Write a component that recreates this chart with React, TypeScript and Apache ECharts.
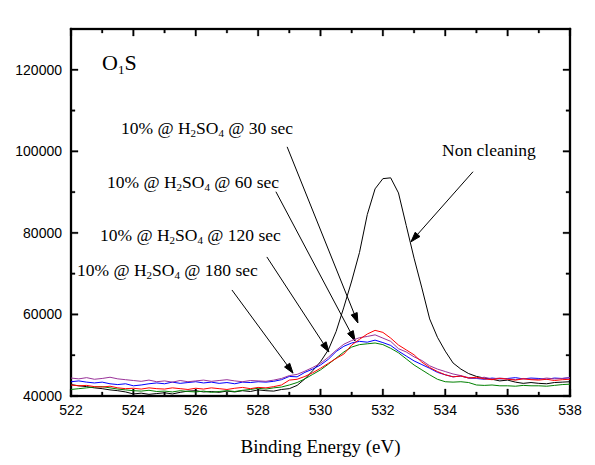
import React, { useEffect, useRef } from "react";
import * as echarts from "echarts";

const energy = [
  522, 522.25, 522.5, 522.75, 523, 523.25, 523.5, 523.75, 524, 524.25, 524.5, 524.75,
  525, 525.25, 525.5, 525.75, 526, 526.25, 526.5, 526.75, 527, 527.25, 527.5, 527.75,
  528, 528.25, 528.5, 528.75, 529, 529.25, 529.5, 529.75, 530, 530.25, 530.5, 530.75,
  531, 531.25, 531.5, 531.75, 532, 532.25, 532.5, 532.75, 533, 533.25, 533.5, 533.75,
  534, 534.25, 534.5, 534.75, 535, 535.25, 535.5, 535.75, 536, 536.25, 536.5, 536.75,
  537, 537.25, 537.5, 537.75, 538,
];

const nonCleaning = [
  42800, 42500, 42300, 42000, 41800, 41500, 41300, 41000, 40500, 40700, 40400, 40600,
  40800, 40500, 40900, 41200, 41300, 41000, 41100, 40900, 41200, 41000, 41300, 41100,
  41500, 41300, 41200, 41600, 41800, 42600, 44200, 46200, 48400, 51300, 55800, 61800,
  68200, 75200, 84500, 90800, 93300, 93500, 89800, 81800, 73800, 66500, 58900, 54400,
  51000, 48100, 46600, 45500, 44800, 44400, 44100, 43700, 43900, 43400, 43100, 43300,
  43100, 43000, 43300, 43400, 43500,
];

const sec30 = [
  42700, 42500, 42600, 42300, 42200, 42400, 42000, 41800, 41900, 41700, 42000, 41800,
  41700, 42000, 41800, 41600, 41900, 41700, 42000, 41800, 41600, 41900, 42100, 41800,
  42100, 42000, 42300, 42700, 43900, 44100, 44800, 45700, 46800, 48000, 49200, 50300,
  52500, 53900, 55200, 56100, 55600, 54200, 52500, 51300, 50100, 48300, 47000, 46000,
  45200, 44700, 44900, 44400, 44600, 44200, 44000, 44300, 44100, 43900, 44200, 44000,
  43900, 44100, 43800, 44000, 44100,
];

const sec60 = [
  44400, 44200, 44500, 44100, 44300, 44600, 44200, 44000, 43800, 43600, 43900, 43500,
  43700, 43400, 43800, 43500, 43700, 43900, 43600, 43800, 44000, 43700, 43500, 43800,
  43700, 43600, 43900, 44300, 45000, 45300, 46100, 47000, 48000, 49500, 51200, 52700,
  53600, 54300, 54600, 55000, 54200, 53400, 51600, 50800, 49600, 48700, 47400, 46600,
  46000, 45400, 45000, 44500, 44300, 44600, 44200, 44400, 44200, 44000, 44300, 44100,
  44100, 44400, 44200, 44300, 44500,
];

const sec120 = [
  43500, 43700, 43400, 43200, 43400, 43000, 42800, 43000, 42500, 42700, 43000, 43200,
  43000, 43400, 43100, 43300, 43500, 43200, 43400, 43100, 43300, 43000, 43400, 43300,
  43500, 43400, 43600, 44000, 44800, 44700, 45800, 46600, 47600, 49000, 50900, 52200,
  53000, 53400, 53200, 53700, 53100, 52400, 51000, 49800, 48600, 47700, 46800, 45800,
  45200, 44700, 44900, 44400, 44300, 44100, 44400, 44200, 44300, 44500, 44200, 44400,
  44300, 44100, 44400, 44300, 44500,
];

const sec180 = [
  41600, 41800, 42000, 42200, 42300, 42000, 41700, 41500, 41300, 41200, 41400, 41100,
  41200, 41000, 41300, 41100, 41000, 41200, 40900, 41100, 41300, 41100, 41400, 41600,
  41900, 41700, 42000, 42200, 42700, 43300, 44200, 45300, 46400, 47800, 49300, 50800,
  52000, 52600, 52800, 53000, 52600, 51700, 50600, 49100, 47600, 46400, 45200, 44100,
  43500, 43400, 43500, 43300, 42700, 42600, 42700, 42500, 42500, 42400, 42600, 42500,
  42500, 42400, 42600, 42800, 42900,
];

const xRange = { min: 522, max: 538, interval: 2 };
const yRange = { min: 40000, max: 130000, interval: 20000, labelMax: 120000 };
const xMajorTicks = [522, 524, 526, 528, 530, 532, 534, 536, 538];
const xMinorTicks = [523, 525, 527, 529, 531, 533, 535, 537];
const yMajorTicks = [40000, 60000, 80000, 100000, 120000];
const yMinorTicks = [50000, 70000, 90000, 110000];

// arrows: [fromX, fromY, toX, toY] in data units
const arrows = [
  [528.93, 101100, 531.2, 57900],
  [528.57, 90100, 531.11, 53500],
  [528.28, 74100, 530.27, 50800],
  [527.16, 66000, 529.12, 45600],
  [534.89, 95000, 532.9, 77800],
];

const treatmentTimes = ["30 sec", "60 sec", "120 sec", "180 sec"];
const labelPos = [
  [121, 128],
  [107, 182],
  [100, 235],
  [77, 270],
];

const SERIF = "Liberation Serif";
const SANS = "Liberation Sans";

export default function App() {
  const ref = useRef<HTMLDivElement>(null);
  useEffect(() => {
    if (!ref.current) return;
    const chart = echarts.init(ref.current, null, { renderer: "svg" });
    const pairs = (vals: number[]) => vals.map((v, i) => [energy[i], v]);
    const line = (name: string, vals: number[], color: string) => ({
      name,
      type: "line",
      data: pairs(vals),
      showSymbol: false,
      symbol: "none",
      lineStyle: { color, width: 1 },
      itemStyle: { color },
      silent: true,
    });
    chart.setOption({
      animation: false,
      grid: { left: 71, right: 25, top: 29, bottom: 69 },
      xAxis: {
        type: "value",
        min: xRange.min,
        max: xRange.max,
        interval: xRange.interval,
        splitLine: { show: false },
        axisLine: { show: false, onZero: false },
        axisTick: { show: false },
        axisLabel: { show: true, margin: 7, fontSize: 14, color: "#000", fontFamily: SANS },
        name: "Binding Energy (eV)",
        nameLocation: "middle",
        nameGap: 41,
        nameTextStyle: { fontFamily: SERIF, fontSize: 19, color: "#000" },
      },
      yAxis: {
        type: "value",
        min: yRange.min,
        max: yRange.max,
        interval: yRange.interval,
        splitLine: { show: false },
        axisLine: { show: false, onZero: false },
        axisTick: { show: false },
        axisLabel: {
          show: true,
          margin: 9,
          fontSize: 14,
          color: "#000",
          fontFamily: SANS,
          formatter: (v: number) => (v <= yRange.labelMax ? String(v) : ""),
        },
      },
      series: [
        line("Non cleaning", nonCleaning, "#000000"),
        line("10% @ H2SO4 @ 180 sec", sec180, "#008000"),
        line("10% @ H2SO4 @ 120 sec", sec120, "#0000ff"),
        line("10% @ H2SO4 @ 60 sec", sec60, "#993399"),
        line("10% @ H2SO4 @ 30 sec", sec30, "#ff0000"),
      ],
    });

    const px = (x: number, y: number) => chart.convertToPixel({ gridIndex: 0 }, [x, y]) as number[];
    const [xl0, yb0] = px(xRange.min, yRange.min);
    const [xr0, yt0] = px(xRange.max, yRange.max);
    const xl = Math.round(xl0);
    const xr = Math.round(xr0);
    const yb = Math.round(yb0);
    const yt = Math.round(yt0);
    const g: any[] = [];
    // filled bar between two corners (used for frame and ticks)
    const bar = (x1: number, y1: number, x2: number, y2: number) =>
      g.push({
        type: "polygon",
        silent: true,
        shape: { points: [[x1, y1], [x2, y1], [x2, y2], [x1, y2]] },
        style: { fill: "#000", stroke: "#000", lineWidth: 0.3 },
      });
    // frame
    bar(xl - 1, yb - 1, xr + 1, yb + 1);
    bar(xl - 1, yt - 1, xr + 1, yt + 1);
    bar(xl - 1, yt - 1, xl + 1, yb + 1);
    bar(xr - 1, yt - 1, xr + 1, yb + 1);
    const vtick = (v: number, len: number) => {
      const x = px(v, yRange.min)[0];
      bar(x - 0.8, yb, x + 0.8, yb - len);
      bar(x - 0.8, yt, x + 0.8, yt + len);
    };
    const htick = (v: number, len: number) => {
      const y = px(xRange.min, v)[1];
      bar(xl, y - 0.8, xl + len, y + 0.8);
      bar(xr, y - 0.8, xr - len, y + 0.8);
    };
    xMajorTicks.forEach((v) => vtick(v, 7));
    xMinorTicks.forEach((v) => vtick(v, 4));
    yMajorTicks.forEach((v) => htick(v, 7));
    yMinorTicks.forEach((v) => htick(v, 4));

    arrows.forEach((a) => {
      const [x1, y1] = px(a[0], a[1]);
      const [x2, y2] = px(a[2], a[3]);
      const dx = x2 - x1;
      const dy = y2 - y1;
      const len = Math.sqrt(dx * dx + dy * dy);
      const ux = dx / len;
      const uy = dy / len;
      const hl = 10;
      const hw = 3.2;
      const bx = x2 - ux * hl;
      const by = y2 - uy * hl;
      g.push({ type: "line", silent: true, shape: { x1, y1, x2: bx, y2: by }, style: { stroke: "#000", lineWidth: 1 } });
      g.push({
        type: "polygon",
        silent: true,
        shape: { points: [[x2, y2], [bx - uy * hw, by + ux * hw], [bx + uy * hw, by - ux * hw]] },
        style: { fill: "#000", stroke: "#000", lineWidth: 1 },
      });
    });

    const canvas = document.createElement("canvas");
    const ctx = canvas.getContext("2d")!;
    const measure = (s: string, size: number) => {
      ctx.font = `${size}px "${SERIF}"`;
      return ctx.measureText(s).width;
    };
    const pieceText = (pieces: [string, boolean][], x0: number, y0: number, size: number, subSize: number, subDy: number) => {
      let x = x0;
      pieces.forEach(([s, isSub]) => {
        const fs = isSub ? subSize : size;
        g.push({
          type: "text",
          silent: true,
          x,
          y: isSub ? y0 + subDy : y0,
          style: { text: s, fontFamily: SERIF, fontSize: fs, fill: "#000", verticalAlign: "middle", align: "left" },
        });
        x += measure(s, fs);
      });
    };
    pieceText([["O", false], ["1", true], ["S", false]], 102, 62, 22, 13, 7);
    treatmentTimes.forEach((t, i) => {
      pieceText(
        [["10% @ H", false], ["2", true], ["SO", false], ["4", true], [" @ " + t, false]],
        labelPos[i][0],
        labelPos[i][1],
        17.5,
        11,
        5
      );
    });
    g.push({
      type: "text",
      silent: true,
      x: 442,
      y: 150,
      style: { text: "Non cleaning", fontFamily: SERIF, fontSize: 17.5, fill: "#000", verticalAlign: "middle", align: "left" },
    });

    chart.setOption({ graphic: g });
    return () => chart.dispose();
  }, []);
  return <div ref={ref} style={{ width: 595, height: 465, position: "absolute", left: 0, top: 0 }} />;
}
